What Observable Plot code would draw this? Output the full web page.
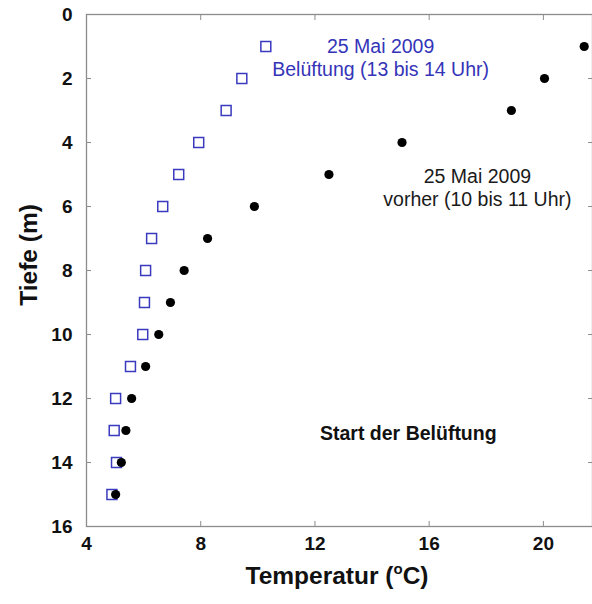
<!DOCTYPE html>
<html><head><meta charset="utf-8">
<script src="https://cdn.jsdelivr.net/npm/d3@7"></script>
<script src="https://cdn.jsdelivr.net/npm/@observablehq/plot@0.6"></script>
<style>body{margin:0;background:#fff;} svg{display:block}</style>
</head><body><div id="chart"></div>
<script>
const depths = [1,2,3,4,5,6,7,8,9,10,11,12,13,14,15];
const tempVorher = [21.43,20.04,18.88,15.05,12.49,9.88,8.24,7.42,6.94,6.53,6.07,5.58,5.38,5.22,5.02];
const tempBelueftung = [10.28,9.44,8.89,7.93,7.23,6.67,6.28,6.07,6.03,5.97,5.54,5.02,4.97,5.05,4.89];
const xTickLabels = [4,8,12,16,20];
const xInnerTicks = [8,12,16,20];
const yTickLabels = [0,2,4,6,8,10,12,14,16];
const yInnerTicks = [2,4,6,8,10,12,14];
const seriesLabels = [
  {x: 14.3, y: 1.33, text: "25 Mai 2009\nBelüftung (13 bis 14 Uhr)", color: "#3434b8"},
  {x: 17.69, y: 5.41, text: "25 Mai 2009\nvorher (10 bis 11 Uhr)", color: "#1a1a1a"}
];
const noteLabels = [
  {x: 15.27, y: 13.09, text: "Start der Belüftung"}
];

const belRows = depths.map((d, i) => ({depth: d, temp: tempBelueftung[i]}));
const vorRows = depths.map((d, i) => ({depth: d, temp: tempVorher[i]}));
const gray = "#8c8c8c";
const font = "'Liberation Sans', Arial, sans-serif";

const chart = Plot.plot({
  width: 592,
  height: 604,
  marginLeft: 86,
  marginRight: 0,
  marginTop: 14,
  marginBottom: 78,
  style: {fontFamily: font, fontSize: "19px", color: "#111", background: "white"},
  x: {domain: [4, 21.72]},
  y: {domain: [0, 16], reverse: true},
  marks: [
    Plot.frame({stroke: gray, strokeWidth: 1.3}),
    Plot.axisX({anchor: "bottom", ticks: xInnerTicks, tickSize: -5, tickFormat: () => "", stroke: gray, label: null}),
    Plot.axisX({anchor: "top", ticks: xInnerTicks, tickSize: -5, tickFormat: () => "", stroke: gray, label: null}),
    Plot.axisY({anchor: "left", ticks: yInnerTicks, tickSize: -5, tickFormat: () => "", stroke: gray, label: null}),
    Plot.axisY({anchor: "right", ticks: yInnerTicks, tickSize: -5, tickFormat: () => "", stroke: gray, label: null}),
    Plot.axisX({anchor: "bottom", ticks: xTickLabels, tickSize: 0, tickPadding: 10, label: null, fontWeight: "bold", fontSize: 19, fill: "#111"}),
    Plot.axisY({anchor: "left", ticks: yTickLabels, tickSize: 0, tickPadding: 14, label: null, fontWeight: "bold", fontSize: 19, fill: "#111"}),
    Plot.dot(belRows, {x: "temp", y: "depth", symbol: "square", r: 5.6, stroke: "#3a3abf", strokeWidth: 1.5, fill: "white"}),
    Plot.dot(vorRows, {x: "temp", y: "depth", r: 4.6, fill: "black", stroke: "none"}),
    Plot.text(seriesLabels, {x: "x", y: "y", text: "text", fill: "color", fontSize: 19.5, lineHeight: 1.18, textAnchor: "middle", lineAnchor: "middle"}),
    Plot.text(noteLabels, {x: "x", y: "y", text: "text", fill: "#111", fontWeight: "bold", fontSize: 19.5, textAnchor: "middle", lineAnchor: "middle"})
  ]
});
document.getElementById("chart").appendChild(chart);

const svg = d3.select(chart);
svg.append("text")
  .attr("transform", "translate(37,255) rotate(-90)")
  .attr("text-anchor", "middle")
  .attr("font-family", font).attr("font-size", 24.5).attr("font-weight", "bold").attr("fill", "#111")
  .text("Tiefe (m)");
const t = svg.append("text")
  .attr("x", 337).attr("y", 584)
  .attr("text-anchor", "middle")
  .attr("font-family", font).attr("font-size", 24.5).attr("font-weight", "bold").attr("fill", "#111");
t.append("tspan").text("Temperatur (");
t.append("tspan").attr("dy", -10).attr("font-size", 15).text("o");
t.append("tspan").attr("dy", 10).text("C)");
</script>
</body></html>
